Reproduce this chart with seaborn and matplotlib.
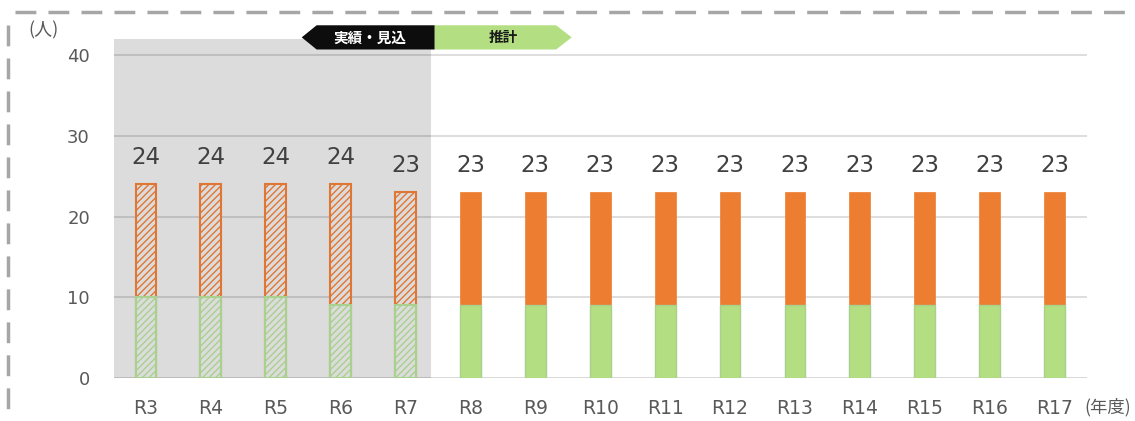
import matplotlib
matplotlib.use("Agg")
import matplotlib.pyplot as plt
from matplotlib.patches import Polygon
from matplotlib.lines import Line2D
import seaborn as sns

years = ["R3", "R4", "R5", "R6", "R7", "R8", "R9", "R10", "R11", "R12",
         "R13", "R14", "R15", "R16", "R17"]
green_vals = [10, 10, 10, 9, 9, 9, 9, 9, 9, 9, 9, 9, 9, 9, 9]
orange_vals = [14, 14, 14, 15, 14, 14, 14, 14, 14, 14, 14, 14, 14, 14, 14]
totals = [g + o for g, o in zip(green_vals, orange_vals)]
n_actual = 5  # R3-R7 are actual / estimate

ORANGE = "#ED7D31"
GREEN = "#B3DE81"
GREY_BG = "#DCDCDC"

sns.set_style("white")
plt.rcParams["font.family"] = ["DejaVu Sans", "Noto Sans CJK JP"]
plt.rcParams["hatch.linewidth"] = 1.0
CJK = ["Noto Sans CJK JP", "DejaVu Sans"]

fig = plt.figure(figsize=(11.35, 4.21), dpi=100)
ax = fig.add_axes([113.5 / 1135, 43 / 421, 973.5 / 1135, 339 / 421])

# stacked bars: total in orange, green drawn over the bottom part
sns.barplot(x=years, y=totals, color=ORANGE, width=0.32, saturation=1, ax=ax)
sns.barplot(x=years, y=green_vals, color=GREEN, width=0.32, saturation=1, ax=ax)

for i, bar in enumerate(ax.containers[0]):
    if i < n_actual:
        bar.set_facecolor(GREY_BG)
        bar.set_edgecolor("#E07634")
        bar.set_hatch("/////")
        bar.set_linewidth(1.5)
    else:
        bar.set_edgecolor(ORANGE)
        bar.set_linewidth(0.5)
    bar.set_zorder(3)
for i, bar in enumerate(ax.containers[1]):
    if i < n_actual:
        bar.set_facecolor(GREY_BG)
        bar.set_edgecolor("#A9D18E")
        bar.set_hatch("/////")
        bar.set_linewidth(1.5)
    else:
        bar.set_edgecolor("#A9D18E")
        bar.set_linewidth(1.0)
    bar.set_zorder(4)

for i, t in enumerate(totals):
    ax.text(i, t + 3.3, str(t), ha="center", va="center", fontsize=16.5,
            color="#404040", zorder=5)

# shaded actual period
ax.axvspan(-0.5, 4.39, ymin=0, ymax=1, color=GREY_BG, lw=0, zorder=0)

ax.set_xlim(-0.5, 14.5)
ax.set_ylim(0, 42)
ax.set_yticks([0, 10, 20, 30, 40])
ax.set_axisbelow(True)
for y in [10, 20, 30, 40]:
    ax.axhline(y, color="black", alpha=0.13, lw=1.5, zorder=1)
ax.axhline(0, color="black", alpha=0.2, lw=1.8, zorder=1)
for s in ax.spines.values():
    s.set_visible(False)
ax.tick_params(axis="y", length=0, pad=17, labelsize=13, labelcolor="#595959")
ax.tick_params(axis="x", length=0, pad=15, labelsize=13.5, labelcolor="#595959")
ax.set_xlabel("")
ax.set_ylabel("")

# period tags
black_tag = Polygon([(2.40, 42.2), (2.63, 43.7), (4.45, 43.7), (4.45, 40.7), (2.63, 40.7)],
                    closed=True, facecolor="#0D0D0D", edgecolor="none", clip_on=False, zorder=6)
green_tag = Polygon([(4.45, 43.7), (6.32, 43.7), (6.56, 42.2), (6.32, 40.7), (4.45, 40.7)],
                    closed=True, facecolor=GREEN, edgecolor="none", clip_on=False, zorder=6)
ax.add_patch(black_tag)
ax.add_patch(green_tag)
ax.text(3.45, 42.2, "実績・見込", ha="center", va="center", fontsize=10.5, family=CJK,
        fontweight="bold", color="white", zorder=7, clip_on=False)
ax.text(5.5, 42.2, "推計", ha="center", va="center", fontsize=10.5, family=CJK,
        fontweight="bold", color="#1A1A1A", zorder=7, clip_on=False)

fig.text(28 / 1135, 1 - 30 / 421, "(人)", ha="left", va="center", fontsize=13,
         family=CJK, color="#595959")
fig.text(1131 / 1135, 1 - 407 / 421, "(年度)", ha="right", va="center", fontsize=12.5,
         family=CJK, color="#595959")

# dashed frame of the panel
fig.add_artist(Line2D([15 / 1135, 1], [1 - 12 / 421, 1 - 12 / 421], color="#A6A6A6",
                      lw=2.5, dashes=(6, 3.5), transform=fig.transFigure))
fig.add_artist(Line2D([8 / 1135, 8 / 1135], [1 - 25 / 421, 0], color="#A6A6A6",
                      lw=2.5, dashes=(6, 3.5), transform=fig.transFigure))

fig.savefig("out.png", dpi=100)
